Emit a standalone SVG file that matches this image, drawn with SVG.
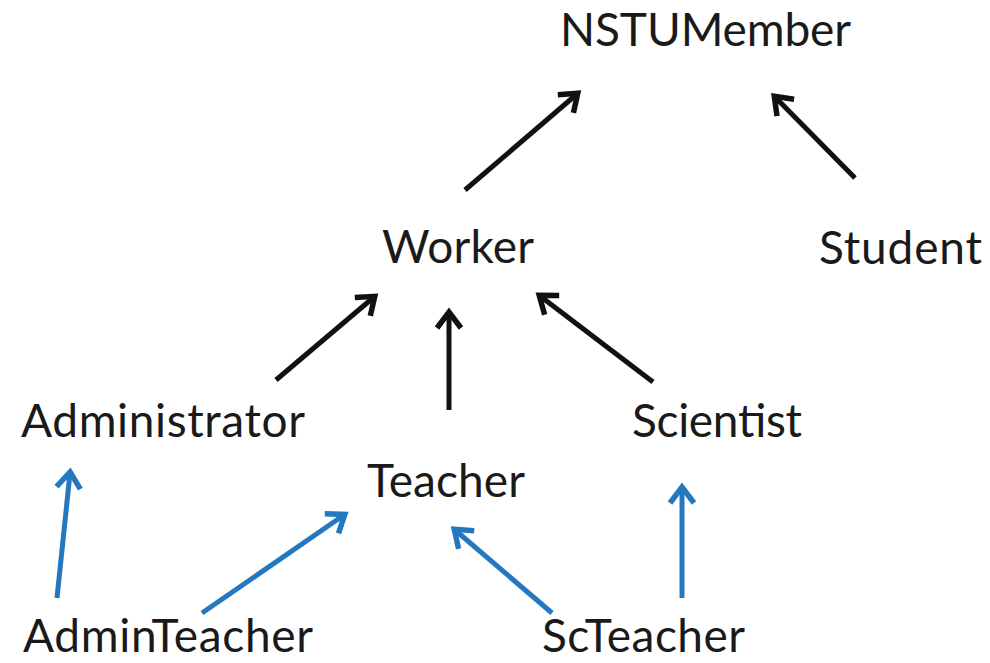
<svg xmlns="http://www.w3.org/2000/svg" width="990" height="663" viewBox="0 0 990 663">
<style>
text{font-family:"Lato","Open Sans","Liberation Sans",sans-serif;font-size:46px;fill:#1a1a1a}
.k{stroke:#111;stroke-width:5;fill:none;stroke-linecap:butt}
.b{stroke:#2478c0;stroke-width:5;fill:none}
</style>
<defs>
<marker id="ak" markerUnits="userSpaceOnUse" viewBox="-20 -14 24 28" markerWidth="24" markerHeight="28" refX="-1" refY="0" orient="auto" overflow="visible">
<path d="M-16,-12 L0,0 L-16,12" fill="none" stroke="#111" stroke-width="5.5"/>
</marker>
<marker id="ab" markerUnits="userSpaceOnUse" viewBox="-20 -14 24 28" markerWidth="24" markerHeight="28" refX="-1" refY="0" orient="auto" overflow="visible">
<path d="M-16,-12 L0,0 L-16,12" fill="none" stroke="#2478c0" stroke-width="5.5"/>
</marker>
</defs>
<rect width="990" height="663" fill="#fff"/>
<g id="connectors">
<line class="k" x1="465" y1="190" x2="577" y2="94" marker-end="url(#ak)"/>
<line class="k" x1="855" y1="178" x2="775" y2="97" marker-end="url(#ak)"/>
<line class="k" x1="276" y1="380" x2="374" y2="297" marker-end="url(#ak)"/>
<line class="k" x1="449" y1="410" x2="449" y2="313" marker-end="url(#ak)"/>
<line class="k" x1="653" y1="382" x2="540" y2="296" marker-end="url(#ak)"/>
<line class="b" x1="57" y1="598" x2="70" y2="473" marker-end="url(#ab)"/>
<line class="b" x1="202" y1="613" x2="344" y2="515" marker-end="url(#ab)"/>
<line class="b" x1="552" y1="613" x2="455" y2="530" marker-end="url(#ab)"/>
<line class="b" x1="682" y1="598" x2="682" y2="488" marker-end="url(#ab)"/>
</g>
<g id="NSTUMember"><text x="560" y="46" textLength="291">NSTUMember</text></g>
<g id="Worker"><text x="382" y="263" textLength="152">Worker</text></g>
<g id="Student"><text x="819" y="264" textLength="163">Student</text></g>
<g id="Administrator"><text x="21" y="437" textLength="284">Administrator</text></g>
<g id="Scientist"><text x="632" y="437" textLength="170">Scientist</text></g>
<g id="Teacher"><text x="367" y="497" textLength="158">Teacher</text></g>
<g id="AdminTeacher"><text x="23" y="652" textLength="290">AdminTeacher</text></g>
<g id="ScTeacher"><text x="542" y="652" textLength="203">ScTeacher</text></g>
</svg>
